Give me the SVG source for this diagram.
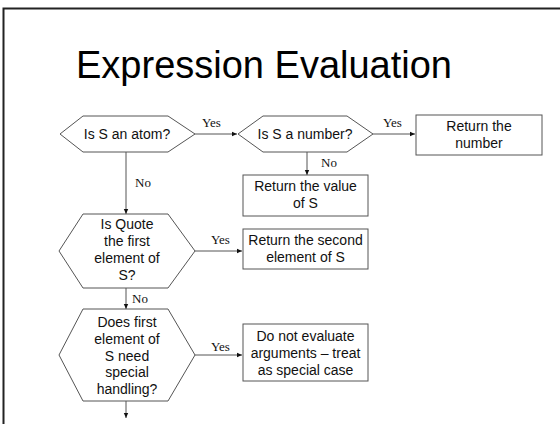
<svg xmlns="http://www.w3.org/2000/svg" width="560" height="424" viewBox="0 0 560 424">
  <defs>
    <marker id="arrow" markerWidth="6" markerHeight="6" refX="5" refY="3" orient="auto" markerUnits="userSpaceOnUse">
      <path d="M0,0.8 L5,3 L0,5.2 Z" fill="#111"/>
    </marker>
  </defs>
  <style>
    .frame { stroke: #222; stroke-width: 2; fill: none; }
    .title { font-family: "Liberation Sans", Arial, sans-serif; font-size: 38px; fill: #000; }
    .shape { fill: #fff; stroke: #555; stroke-width: 1; }
    .label { font-family: "Liberation Sans", Arial, sans-serif; font-size: 14px; fill: #111; text-anchor: middle; }
    .edge { stroke: #555; stroke-width: 1; fill: none; marker-end: url(#arrow); }
    .edge-label { font-family: "Liberation Serif", "Times New Roman", serif; font-size: 13px; fill: #111; }
  </style>

  <rect width="560" height="424" fill="#fff"/>
  <!-- slide frame: top and left rules -->
  <path class="frame" d="M3.5,424 V8.5 H560"/>

  <text class="title" x="76" y="78">Expression Evaluation</text>

  <!-- connectors -->
  <g id="connectors">
    <line class="edge" x1="195" y1="134" x2="237" y2="134"/>
    <text class="edge-label" x="202" y="127">Yes</text>

    <line class="edge" x1="373" y1="134" x2="415" y2="134"/>
    <text class="edge-label" x="383" y="127">Yes</text>

    <line class="edge" x1="307" y1="152" x2="307" y2="175"/>
    <text class="edge-label" x="321" y="167">No</text>

    <line class="edge" x1="126" y1="152" x2="126" y2="214"/>
    <text class="edge-label" x="135" y="187">No</text>

    <line class="edge" x1="195" y1="251" x2="242" y2="251"/>
    <text class="edge-label" x="211" y="244">Yes</text>

    <line class="edge" x1="126" y1="288" x2="126" y2="309"/>
    <text class="edge-label" x="132" y="303">No</text>

    <line class="edge" x1="195" y1="355" x2="242" y2="355"/>
    <text class="edge-label" x="211" y="351">Yes</text>

    <line class="edge" x1="126" y1="401" x2="126" y2="418"/>
  </g>

  <!-- decisions -->
  <g id="is-atom">
    <polygon class="shape" points="60,134 83,116 168,116 195,134 168,152 83,152"/>
    <text class="label" x="127" y="139">Is S an atom?</text>
  </g>

  <g id="is-number">
    <polygon class="shape" points="238,134 263,116 347,116 373,134 347,152 263,152"/>
    <text class="label" x="305" y="139">Is S a number?</text>
  </g>

  <g id="is-quote">
    <polygon class="shape" points="59,251 83,214 168,214 195,251 168,288 83,288"/>
    <text class="label" x="127" y="229">Is Quote</text>
    <text class="label" x="127" y="246">the first</text>
    <text class="label" x="127" y="263">element of</text>
    <text class="label" x="127" y="280">S?</text>
  </g>

  <g id="is-special">
    <polygon class="shape" points="59,355 83,309 168,309 195,355 168,401 83,401"/>
    <text class="label" x="127" y="327">Does first</text>
    <text class="label" x="127" y="344">element of</text>
    <text class="label" x="127" y="361">S need</text>
    <text class="label" x="127" y="377">special</text>
    <text class="label" x="127" y="394">handling?</text>
  </g>

  <!-- results -->
  <g id="return-number">
    <rect class="shape" x="416" y="115" width="126" height="40"/>
    <text class="label" x="479" y="131">Return the</text>
    <text class="label" x="479" y="148">number</text>
  </g>

  <g id="return-value">
    <rect class="shape" x="243" y="175" width="125" height="41"/>
    <text class="label" x="305.5" y="191">Return the value</text>
    <text class="label" x="305.5" y="208">of S</text>
  </g>

  <g id="return-second">
    <rect class="shape" x="243" y="229" width="125" height="40"/>
    <text class="label" x="305.5" y="245">Return the second</text>
    <text class="label" x="305.5" y="262">element of S</text>
  </g>

  <g id="special-case">
    <rect class="shape" x="243" y="324" width="125" height="57"/>
    <text class="label" x="305.5" y="341">Do not evaluate</text>
    <text class="label" x="305.5" y="358">arguments – treat</text>
    <text class="label" x="305.5" y="375">as special case</text>
  </g>
</svg>
